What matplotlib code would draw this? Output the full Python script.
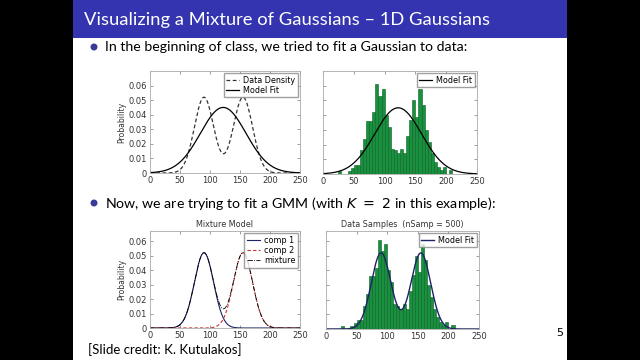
import numpy as np
import matplotlib.pyplot as plt
from matplotlib.patches import Rectangle, Ellipse

# ---- data ----
bin_left = [25, 30, 35, 40, 45, 50, 55, 60, 65, 70, 75, 80, 85, 90, 95, 100,
            105, 110, 115, 120, 125, 130, 135, 140, 145, 150, 155, 160, 165,
            170, 175, 180, 185, 190, 195, 200, 205]
bin_prob = [0.002, 0.0, 0.0, 0.002, 0.004, 0.006, 0.006, 0.016, 0.024, 0.036,
            0.036, 0.042, 0.061, 0.053, 0.058, 0.040, 0.032, 0.017, 0.016,
            0.014, 0.017, 0.014, 0.026, 0.037, 0.050, 0.039, 0.058, 0.047,
            0.030, 0.022, 0.014, 0.008, 0.005, 0.003, 0.005, 0.0, 0.003]
bin_width = 5

# gaussian components: peak height, mean, std
comp_peak = [0.052, 0.052]
comp_mean = [90, 155]
comp_std = [16, 16]
fit_peak = 0.045
fit_mean = 122
fit_std = 38

xticks = [0, 50, 100, 150, 200, 250]
yticks = [0, 0.01, 0.02, 0.03, 0.04, 0.05, 0.06]
yticklabels = ['0', '0.01', '0.02', '0.03', '0.04', '0.05', '0.06']

x = np.linspace(0, 250, 501)
def bump(p, m, s):
    return p * np.exp(-(x - m) ** 2 / (2 * s ** 2))
c1 = bump(comp_peak[0], comp_mean[0], comp_std[0])
c2 = bump(comp_peak[1], comp_mean[1], comp_std[1])
mix = c1 + c2
fit = bump(fit_peak, fit_mean, fit_std)

BLUE = '#3434b0'
GREEN = '#17913e'
NAVY = '#1c2366'

fig = plt.figure(figsize=(6.4, 3.6), dpi=100)
fig.patch.set_facecolor('black')
fig.patches.append(Rectangle((73/640, 0), 494/640, 1, transform=fig.transFigure,
                             facecolor='white', edgecolor='none', zorder=-2))
fig.patches.append(Rectangle((73/640, 1 - 38/360), 494/640, 38/360,
                             transform=fig.transFigure, facecolor=BLUE,
                             edgecolor='none', zorder=-1))

fig.text(84/640, 1 - 20/360, 'Visualizing a Mixture of Gaussians \u2013 1D Gaussians',
         color='white', fontsize=13.2, family='Lato', va='center')
for yb in (47, 203):
    fig.patches.append(Ellipse((94/640, 1 - yb/360), 7/640, 7/360,
                               transform=fig.transFigure,
                               facecolor='#3a3a9a', edgecolor='none', zorder=2))
fig.text(105/640, 1 - 47/360, 'In the beginning of class, we tried to fit a Gaussian to data:',
         fontsize=10.2, family='Lato', va='center')
fig.text(105/640, 1 - 203/360, 'Now, we are trying to fit a GMM (with $K\\ =\\ 2$ in this example):',
         fontsize=10.2, family='Lato', va='center')
fig.text(88/640, 1 - 350/360, '[Slide credit: K. Kutulakos]', fontsize=9.5,
         family='Lato', va='center')
fig.text(556/640, 1 - 333/360, '5', fontsize=8, color='black', va='center')


def style(ax, ylim, labels=True):
    ax.set_xlim(0, 250)
    ax.set_ylim(0, ylim)
    ax.set_xticks(xticks)
    ax.set_yticks(yticks)
    ax.set_yticklabels(yticklabels if labels else [])
    ax.tick_params(direction='in', length=2, width=0.4, labelsize=6,
                   top=True, right=True, pad=2, colors='#555555', labelcolor='#333333')
    for sp in ax.spines.values():
        sp.set_color('#aaaaaa')
        sp.set_linewidth(0.6)
    if labels:
        ax.set_ylabel('Probability', fontsize=5.5, labelpad=2, color='#333333')


leg_kw = dict(loc='upper right', fontsize=5.8, frameon=True, fancybox=False,
              edgecolor='#888888', borderpad=0.3, handlelength=1.6,
              labelspacing=0.15, borderaxespad=0.3, handletextpad=0.5)

# top left
ax1 = fig.add_axes([150/640, 1 - 173/360, 150/640, 102/360])
ax1.plot(x, mix, color='#333333', ls=(0, (3, 2)), lw=0.9, label='Data Density')
ax1.plot(x, fit, color='black', lw=0.9, label='Model Fit')
style(ax1, 0.07)
ax1.legend(**leg_kw)

# top right
ax2 = fig.add_axes([323/640, 1 - 174/360, 154/640, 103/360])
ax2.bar(bin_left, bin_prob, width=bin_width, align='edge', color=GREEN,
        edgecolor='#0d5e25', linewidth=0.4)
ax2.plot(x, fit, color='black', lw=0.9, label='Model Fit')
style(ax2, 0.07, labels=False)
ax2.legend(**leg_kw)

# bottom left
ax3 = fig.add_axes([150/640, 1 - 328/360, 150/640, 97/360])
ax3.plot(x, c1, color=NAVY, lw=0.8, label='comp 1')
ax3.plot(x, c2, color='#cc3333', ls=(0, (3, 2)), lw=0.8, label='comp 2')
ax3.plot(x, mix, color='black', ls='-.', lw=0.6, label='mixture')
style(ax3, 0.067)
ax3.set_title('Mixture Model', fontsize=5.8, pad=3, color='#333333')
ax3.legend(**leg_kw)

# bottom right
ax4 = fig.add_axes([326/640, 1 - 329/360, 153/640, 98/360])
ax4.bar(bin_left, bin_prob, width=bin_width, align='edge', color=GREEN,
        edgecolor='#0d5e25', linewidth=0.4)
ax4.plot(x, mix, color=NAVY, lw=1.0, label='Model Fit')
style(ax4, 0.067, labels=False)
ax4.set_title('Data Samples  (nSamp = 500)', fontsize=5.8, pad=3, color='#333333')
ax4.legend(**leg_kw)

fig.savefig('out.png', dpi=100, facecolor=fig.get_facecolor())
